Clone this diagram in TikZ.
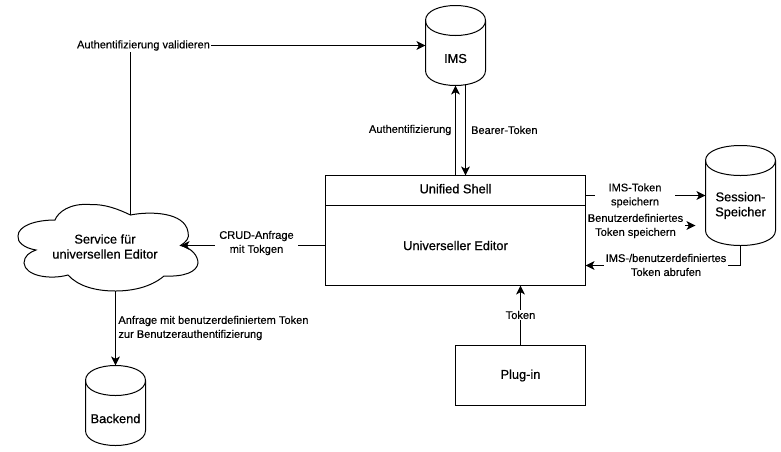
\documentclass[tikz,border=0pt]{standalone}
\usepackage{fontspec}
\setmainfont{Liberation Sans}
\usetikzlibrary{arrows.meta}
\tikzset{
  x=0.75pt,y=-0.75pt,
  ln/.style={line width=0.75pt,black},
  arr/.style={ln,-{Stealth[length=6.75pt,width=6.6pt,inset=1.8pt]}},
  lab/.style={font=\fontsize{8.3}{10.5}\selectfont\addfontfeature{FakeBold=0.2},align=center,fill=white,inner sep=1pt},
  main/.style={font=\fontsize{9.6}{11.25}\selectfont\addfontfeature{FakeBold=0.7},align=center,inner sep=0pt},
  boxed/.style={draw,ln,outer sep=0pt,inner sep=0pt,anchor=north west},
}
\newcommand{\cyl}[4]{% left right top bottom
  \pgfmathsetmacro{\cry}{15}
  \draw[ln,fill=white] (#1,#3+\cry) .. controls (#1,#3+\cry-20) and (#2,#3+\cry-20) .. (#2,#3+\cry)
    -- (#2,#4-\cry) .. controls (#2,#4-\cry+20) and (#1,#4-\cry+20) .. (#1,#4-\cry) -- cycle;
  \draw[ln] (#1,#3+\cry) .. controls (#1,#3+\cry+20) and (#2,#3+\cry+20) .. (#2,#3+\cry);
}
\begin{document}
\begin{tikzpicture}
\useasboundingbox (0,0) rectangle (781,451);
\fill[white] (0,0) rectangle (781,451);
\cyl{425.5}{485.5}{5.5}{85.5}
\cyl{705.5}{775.5}{145.5}{245.5}
\cyl{85.5}{145.5}{365.5}{445.5}
\node[main] (ims) at (455.5,58.5) {IMS};
\node[main] (sess) at (740.5,205.5) {Session-\\Speicher};
\node[main] (back) at (115.5,418.5) {Backend};
\coordinate (imstl) at (425.5,45.5);
\coordinate (imsb1) at (455.5,85.5);
\coordinate (imsb2) at (465.5,85);
\coordinate (sessl1) at (705.5,195.5);
\coordinate (sessb) at (740.5,245.5);
\coordinate (backt) at (115.5,365.5);
\node[boxed,minimum width=195pt,minimum height=82.5pt] (box) at (325.5,175.5) {};
\node[main] (us) at (455.5,188.7) {Unified Shell};
\node[main] (ue) at (455.5,245.5) {Universeller Editor};
\draw[ln] (box.west |- 0,205.5) -- (box.east |- 0,205.5);
\node[boxed,minimum width=97.5pt,minimum height=45pt] (plug) at (455.5,345.5) {};
\node[main] at (plug.center) {Plug-in};
\draw[ln,fill=white] (55,220) .. controls (58,212) and (70,203) .. (90,204.5)
  .. controls (105,204) and (118,209) .. (130.5,215)
  .. controls (150,211) and (185,212) .. (188,232)
  .. controls (190,238) and (186,242) .. (180.5,245.5)
  .. controls (192,248) and (198,256) .. (198,263)
  .. controls (197,272) and (184,277) .. (164,276)
  .. controls (150,288) and (130,291) .. (115.5,291)
  .. controls (95,291) and (78,286) .. (68,275)
  .. controls (50,280) and (25,276) .. (24,263)
  .. controls (24,256) and (30,252) .. (36,250)
  .. controls (24,248) and (17,242) .. (18,236)
  .. controls (18,226) and (35,220) .. (55,220) -- cycle;
\node[main] (svc) at (105,246.5) {Service für\\universellen Editor};
\coordinate (cldt) at (130.5,215);
\coordinate (cldr) at (180.5,245.5);
\coordinate (cldb) at (115.5,291);
\coordinate (avp) at (130.5,45.5);
\draw[ln] (cldt) -- (avp);
\draw[arr] (avp) -- (imstl);
\node[lab] (av) at (143.5,45.5) {Authentifizierung validieren};
\draw[arr] (box.west |- cldr) -- (cldr);
\node[lab,inner xsep=3pt] (crud) at (256.5,243) {CRUD-Anfrage\\mit Tokgen};
\draw[arr] (cldb) -- (backt);
\node[lab,align=left,anchor=west,fill=none] (anf) at (116.8,328) {Anfrage mit benutzerdefiniertem Token\\zur Benutzerauthentifizierung};
\coordinate (bxa) at (455.5,175.5);
\coordinate (bxb) at (465.5,175.5);
\draw[arr] (bxa) -- (imsb1);
\draw[arr] (imsb2) -- (bxb);
\node[lab,anchor=east] (auth) at (453,130) {Authentifizierung};
\node[lab,anchor=west] (bt) at (469.5,130) {Bearer-Token};
\coordinate (r1) at (585.5,195.5);
\coordinate (r2) at (585.5,225.5);
\coordinate (r3) at (585.5,265.5);
\coordinate (t1) at (520.5,285.5);
\coordinate (t0) at (520.5,345.5);
\coordinate (q2) at (695.5,225.5);
\coordinate (q3) at (740.5,265.5);
\draw[arr] (r1) -- (sessl1);
\node[lab,minimum width=60pt] (l1) at (635,195.5) {IMS-Token\\speichern};
\draw[arr] (r2) -- (q2);
\node[lab] (l2) at (635.5,226) {Benutzerdefiniertes\\Token speichern};
\draw[arr] (sessb) -- (q3) -- (r3);
\node[lab] (l3) at (666,265) {IMS-/benutzerdefiniertes\\Token abrufen};
\draw[arr] (t0) -- (t1);
\node[lab] (tk) at (520.5,315) {Token};
\end{tikzpicture}
\end{document}
